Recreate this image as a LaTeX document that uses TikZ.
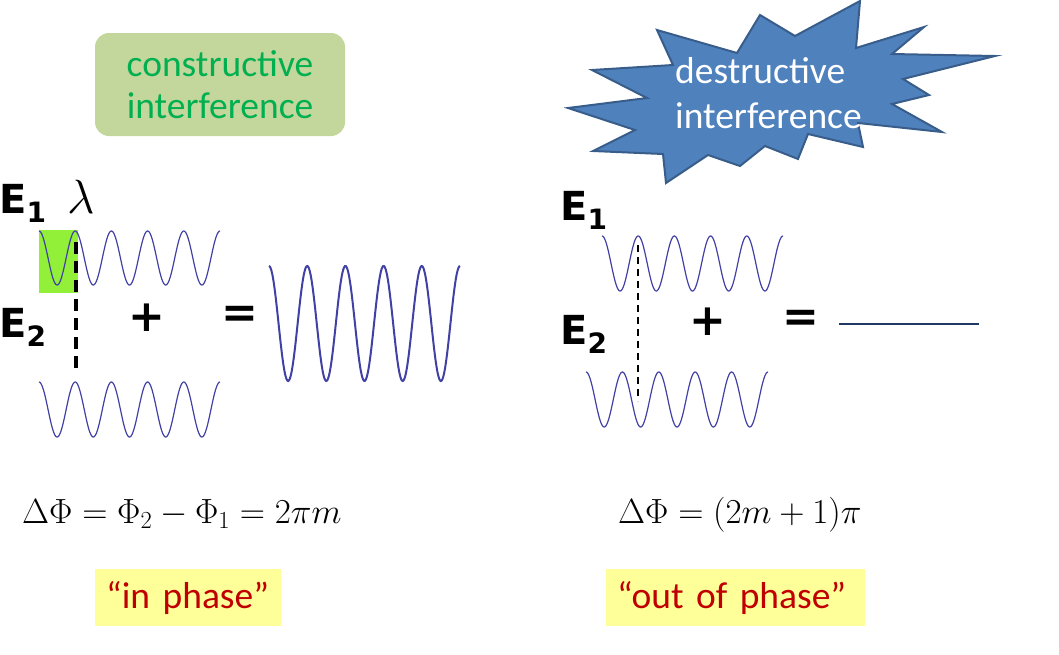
\RequirePackage{fix-cm}
\documentclass[tikz,border=0pt]{standalone}
\usepackage{fontspec}
\newfontfamily\calibri{Carlito}
\newfontfamily\efont{DejaVu Sans}
\definecolor{wavecol}{RGB}{64,64,165}
\definecolor{navy}{RGB}{31,56,100}
\definecolor{boxgreen}{RGB}{195,214,155}
\definecolor{txtgreen}{RGB}{0,176,80}
\definecolor{burstfill}{RGB}{79,129,189}
\definecolor{burstdraw}{RGB}{56,93,138}
\definecolor{hlgreen}{RGB}{146,240,56}
\definecolor{phasebox}{RGB}{255,255,153}
\definecolor{phasetxt}{RGB}{192,0,0}
\tikzset{
  elabel/.style={anchor=base west, inner sep=0pt, font=\efont\bfseries\fontsize{40}{40}\selectfont},
  opsym/.style={inner sep=0pt, font=\efont\bfseries\fontsize{44}{44}\selectfont},
  wave/.style={draw=wavecol, line width=1.2pt},
  bigwave/.style={draw=wavecol, line width=2pt},
  formula/.style={anchor=base west, inner sep=0pt, font=\fontsize{35}{40}\selectfont},
  phasenode/.style={anchor=west, fill=phasebox, inner xsep=11pt, inner ysep=0pt, minimum height=57pt, align=left, text=phasetxt, font=\calibri\fontsize{37.5}{40}\selectfont},
}
\newcommand{\esub}[1]{\lower9pt\hbox{\fontsize{28}{28}\selectfont #1}}
\begin{document}
\begin{tikzpicture}[x=1pt,y=-1pt]
\useasboundingbox (0,0) rectangle (1059,654);
% constructive box
\node[fill=boxgreen, rounded corners=14pt, minimum width=250pt, minimum height=103pt, inner sep=0pt, align=center, text=txtgreen, font=\calibri\fontsize{37.5}{42}\selectfont] (cons) at (220,84.5) {constructive\\interference};
% starburst
\draw[fill=burstfill, draw=burstdraw, line width=2pt, line join=miter]
 (860,1) -- (856,48) -- (924,27) -- (892,54) -- (995,56) -- (903,79) -- (929,95) -- (892,104) -- (942,132) -- (858,123) -- (863,147) -- (808,134) -- (798,159) -- (765,146) -- (740,166) -- (708,155) -- (666,183) -- (663,154) -- (593,151) -- (635,130) -- (568,108) -- (647,98) -- (592,70) -- (673,65) -- (657,30) -- (737,53) -- (760,15) -- (795,36) -- cycle;
\node[anchor=west, inner sep=0pt, align=left, text=white, font=\calibri\fontsize{37.5}{45}\selectfont] (dest) at (675,93) {destructive\\interference};
% left labels
\node[elabel] (e1l) at (-1,213) {E\esub{1}};
\node[anchor=base west, inner sep=0pt, font=\fontsize{48}{48}\selectfont] (lam) at (67,213) {$\lambda$};
\node[elabel] (e2l) at (-1,337) {E\esub{2}};
% green highlight
\fill[hlgreen] (39,230) rectangle (78,293);
% left waves
\draw[wave] plot[domain=39:220, samples=240, smooth] (\x, {258-27*cos((\x-39)*9.9448)});
\draw[wave] plot[domain=39:220, samples=240, smooth] (\x, {409.5-27.5*cos((\x-39)*9.9448)});
\draw[bigwave] plot[domain=269:460, samples=240, smooth] (\x, {323.5-57.5*cos((\x-269)*9.4241)});
% left dashed
\coordinate (dla) at (76,242);
\coordinate (dlb) at (76,373);
\draw[black, line width=3.2pt, dash pattern=on 12pt off 7pt] (dla) -- (dlb);
\node[opsym] (plusl) at (147,318) {+};
\node[opsym] (eql) at (240,317) {=};
% right side
\node[elabel] (e1r) at (560,220) {E\esub{1}};
\node[elabel] (e2r) at (560,344) {E\esub{2}};
\draw[wave] plot[domain=602:783, samples=240, smooth] (\x, {263.5-27.5*cos((\x-602)*9.9448)});
\draw[wave] plot[domain=586:768, samples=240, smooth] (\x, {399.5-27.5*cos((\x-586)*9.8901)});
\coordinate (dra) at (638,245);
\coordinate (drb) at (638,401);
\draw[black, line width=2.2pt, dash pattern=on 7pt off 5pt] (dra) -- (drb);
\node[opsym] (plusr) at (708,322) {+};
\node[opsym] (eqr) at (801,321) {=};
\coordinate (la) at (839,324);
\coordinate (lb) at (979,324);
\draw[navy, line width=2.5pt] (la) -- (lb);
% formulas
\node[formula] (fl) at (22,523) {$\Delta\Phi = \Phi_2 - \Phi_1 = 2\pi m$};
\node[formula] (fr) at (618,523) {$\Delta\Phi = (2m+1)\pi$};
% phase boxes
\node[phasenode, text width=164pt] (inph) at (95,597.5) {“in phase”};
\node[phasenode, text width=237pt] (outph) at (606,597.5) {“out of phase”};
\end{tikzpicture}
\end{document}
